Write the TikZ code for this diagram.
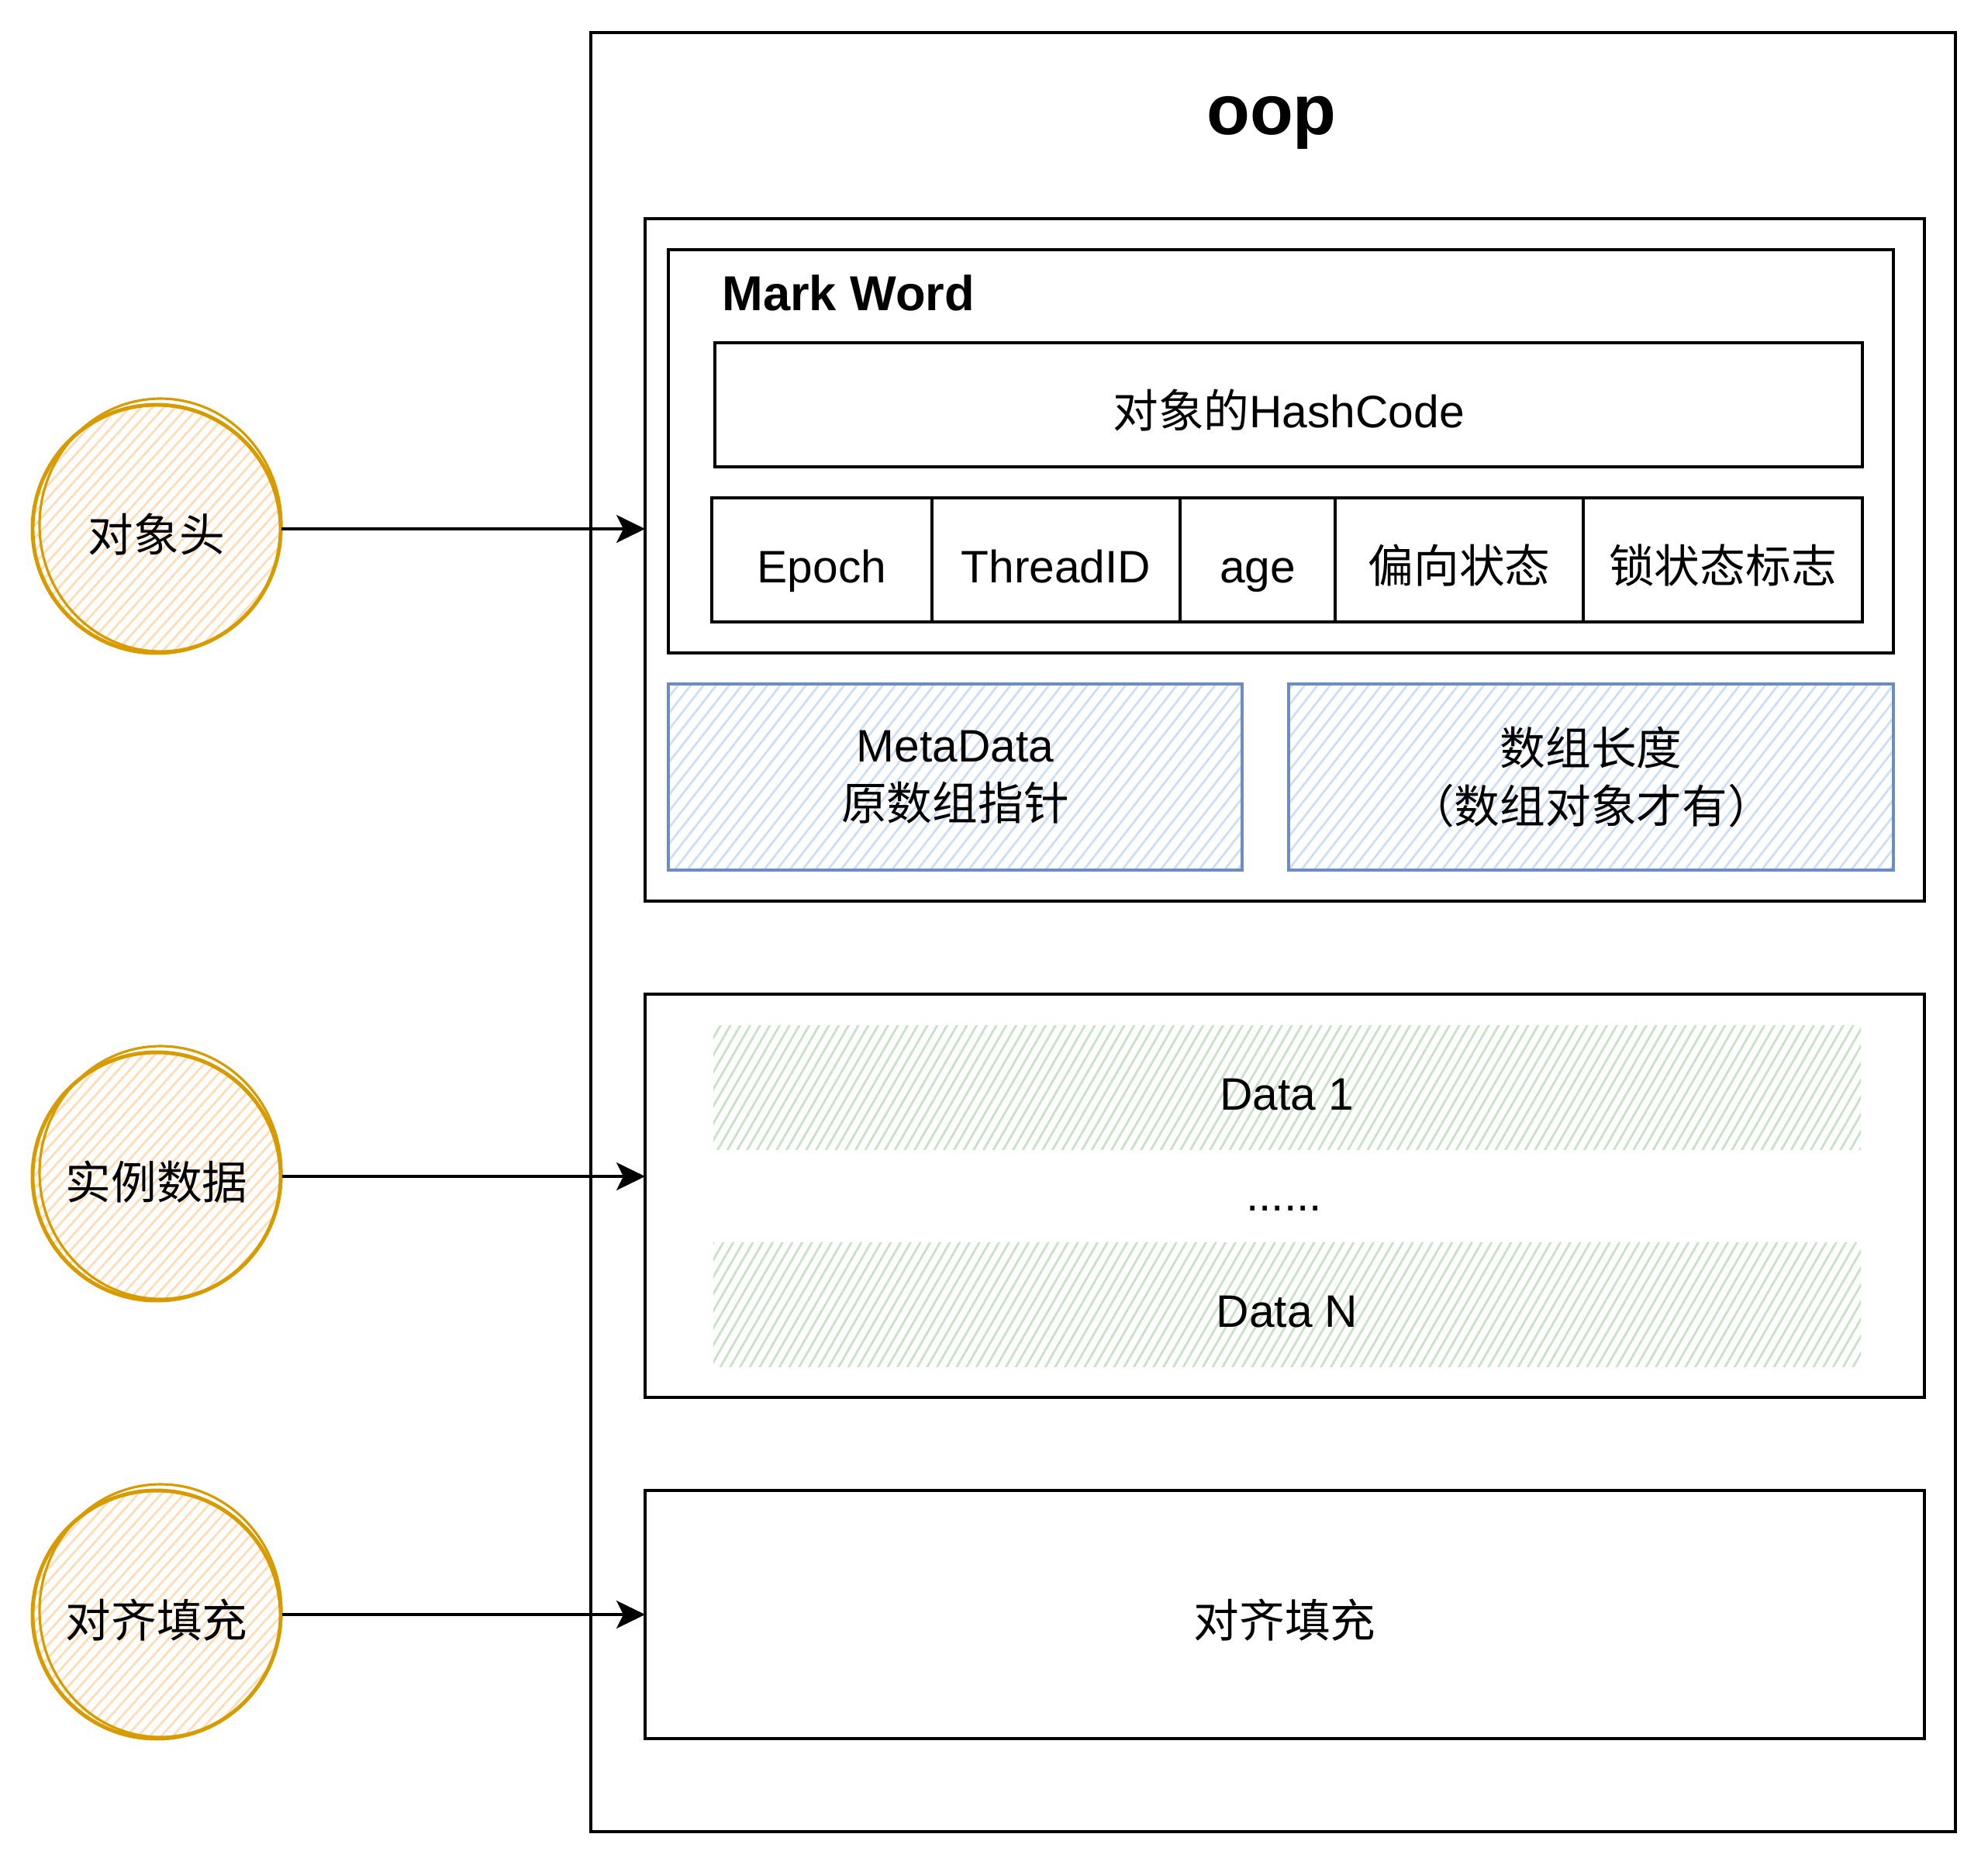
\documentclass[tikz,border=0pt]{standalone}
\usepackage{fontspec}
\setmainfont{Liberation Sans}
\newfontfamily\cjk{Noto Sans CJK SC}
\usetikzlibrary{arrows.meta, patterns.meta, positioning}

\definecolor{lineorange}{HTML}{D79B00}
\definecolor{hatchorange}{HTML}{FFDDB8}
\definecolor{lineblue}{HTML}{6C8EBF}
\definecolor{hatchblue}{HTML}{CCDFF8}
\definecolor{hatchgreen}{HTML}{C8E2C6}
\newcommand{\boxfont}{\fontsize{16.7pt}{21.3pt}\selectfont}

\begin{document}
\begin{tikzpicture}[x=1mm, y=-1mm,
					font=\boxfont,
					box/.style={draw, line width=0.9pt, inner sep=0pt, outer sep=0pt, align=center},
					cell/.style={box, minimum height=16mm, text height=19pt, text depth=2pt},
					blue/.style={draw=lineblue, line width=1.3pt, inner sep=0pt, align=center,
						pattern={Lines[angle=52, distance=1.3mm, line width=0.8pt]}, pattern color=hatchblue},
					green/.style={inner sep=0pt, minimum width=148mm, minimum height=16mm,
						text height=19pt, text depth=2pt,
						pattern={Lines[angle=60, distance=1.1mm, line width=0.8pt]}, pattern color=hatchgreen},
					part/.style={circle, draw=lineorange, line width=1.4pt, minimum size=32mm, inner sep=0pt,
						text height=19pt, text depth=2pt,
						pattern={Lines[angle=48, distance=1.1mm, line width=0.8pt]}, pattern color=hatchorange},
					link/.style={-{Stealth[length=3.7mm, width=3.6mm, inset=0.9mm]}, line width=0.9pt}]

	\useasboundingbox (0,0) rectangle (256.4,240.4);

	\node[box, minimum width=176mm, minimum height=232mm] (oop) at (164.2,120.2) {};
	\node[anchor=base, font=\fontsize{26pt}{30pt}\selectfont\bfseries] (title) at (164.0,17.3) {oop};

	% header
	\node[box, minimum width=165mm, minimum height=88mm] (hdr) at (165.7,72.2) {};
	\node[box, minimum width=158mm, minimum height=52mm] (mark) at (165.2,58.2) {};
	\node[anchor=base west, font=\fontsize{18pt}{22pt}\selectfont\bfseries] (marktxt) at (91.9,40.0) {Mark Word};
	\node[cell, minimum width=148mm] (hash) at (166.2,52.2) {{\cjk 对象的}HashCode};

	\node[cell, minimum width=28.4mm] (epoch) at (106.0,72.2) {Epoch};
	\node[cell, minimum width=32mm, right=0mm of epoch] (tid) {ThreadID};
	\node[cell, minimum width=20mm, right=0mm of tid] (age) {age};
	\node[cell, minimum width=32mm, right=0mm of age] (bias) {\cjk 偏向状态};
	\node[cell, minimum width=36mm, right=0mm of bias] (lock) {\cjk 锁状态标志};

	\node[blue, minimum width=74mm, minimum height=24mm] (meta) at (123.2,100.2) {MetaData\\{\cjk 原数组指针}};
	\node[blue, minimum width=78mm, minimum height=24mm] (alen) at (205.2,100.2) {{\cjk 数组长度}\\{\cjk （数组对象才有）}};

	% instance data
	\node[box, minimum width=165mm, minimum height=52mm] (data) at (165.7,154.2) {};
	\node[green] (d1) at (166.0,140.2) {Data 1};
	\node[anchor=base] (dots) at (165.6,156.1) {......};
	\node[green] (dn) at (166.0,168.2) {Data N};

	% padding
	\node[cell, minimum width=165mm, minimum height=32mm] (pad) at (165.7,208.2) {\cjk 对齐填充};

	\node[part] (head) at (20.2,68.2) {\cjk 对象头};
	\node[part] (inst) at (20.2,151.7) {\cjk 实例数据};
	\node[part] (fill) at (20.2,208.2) {\cjk 对齐填充};
	\draw[lineorange, line width=0.9pt] ([shift={(0.5,-0.5)}]head.center) ellipse (15.6 and 16.3);
	\draw[lineorange, line width=0.9pt] ([shift={(0.5,-0.5)}]inst.center) ellipse (15.6 and 16.3);
	\draw[lineorange, line width=0.9pt] ([shift={(0.5,-0.5)}]fill.center) ellipse (15.6 and 16.3);

	\draw[link] (head) -- (head -| hdr.west);
	\draw[link] (inst) -- (inst -| data.west);
	\draw[link] (fill) -- (fill -| pad.west);
\end{tikzpicture}
\end{document}
